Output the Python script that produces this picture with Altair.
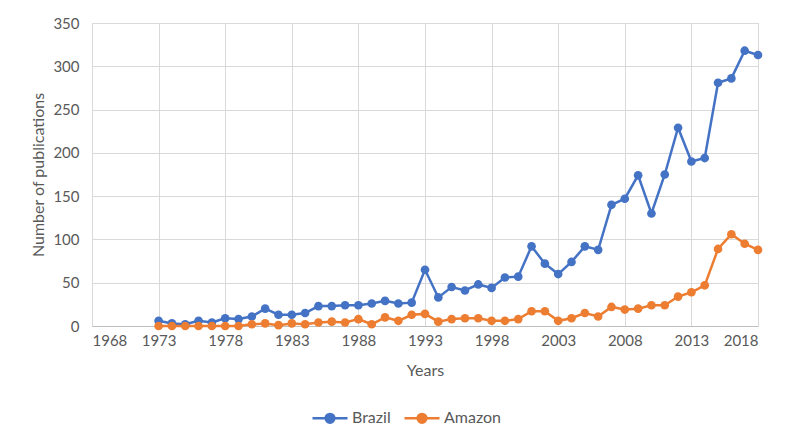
import altair as alt
import pandas as pd

years = list(range(1973, 2019))
brazil = [6, 3, 2, 6, 4, 9, 8, 11, 20, 13, 13, 15, 23, 23, 24, 24, 26, 29, 26, 27,
          65, 33, 45, 41, 48, 44, 56, 57, 92, 72, 60, 74, 92, 88, 140, 147, 174, 130,
          175, 229, 190, 194, 281, 286, 318, 313]
amazon = [0, 0, 0, 0, 0, 0, 0, 2, 3, 1, 3, 2, 4, 5, 4, 8, 2, 10, 6, 13,
          14, 5, 8, 9, 9, 6, 6, 8, 17, 17, 6, 9, 15, 11, 22, 19, 20, 24,
          24, 34, 39, 47, 89, 106, 95, 88]
series = ["Brazil", "Amazon"]
colors = ["#4472C4", "#ED7D31"]
x_ticks = list(range(1968, 2019, 5))
y_ticks = list(range(0, 351, 50))

df = pd.concat([
    pd.DataFrame({"Year": years, "Value": brazil, "Series": "Brazil"}),
    pd.DataFrame({"Year": years, "Value": amazon, "Series": "Amazon"}),
])

font = "Lato"
legend_path = ("M-1,0H1 M-0.25,0 a0.25,0.25 0 1,0 0.5,0 a0.25,0.25 0 1,0 -0.5,0 Z")

chart = alt.Chart(df).mark_line(
    strokeWidth=2.5,
    point=alt.OverlayMarkDef(filled=True, size=75, opacity=1),
).encode(
    x=alt.X("Year:Q",
            scale=alt.Scale(domain=[1968, 2018], nice=False, zero=False),
            axis=alt.Axis(title="Years", values=x_ticks, format="d",
                          labelFontSize=15, titleFontSize=16,
                          labelPadding=7, titlePadding=14,
                          domainColor="#bfbfbf", ticks=False,
                          gridColor="#d9d9d9")),
    y=alt.Y("Value:Q",
            scale=alt.Scale(domain=[0, 350], nice=False),
            axis=alt.Axis(title="Number of publications", values=y_ticks,
                          labelFontSize=15, titleFontSize=16,
                          labelPadding=13, titlePadding=6,
                          domain=False, ticks=False, gridColor="#d9d9d9")),
    color=alt.Color("Series:N",
                    scale=alt.Scale(domain=series, range=colors),
                    sort=series,
                    legend=alt.Legend(title=None, orient="none", direction="horizontal",
                                      legendX=219, legendY=376,
                                      symbolType=legend_path, symbolSize=1225,
                                      symbolStrokeWidth=2.5,
                                      labelFontSize=16, columnPadding=8,
                                      labelOffset=3)),
).properties(
    width=666, height=303,
    padding={"left": 84, "top": 15, "right": 20, "bottom": 110},
    autosize=alt.AutoSizeParams(type="none"),
).configure_view(
    stroke=None
).configure(
    font=font
).configure_axis(
    labelColor="#595959", titleColor="#595959", labelFont=font, titleFont=font,
    titleFontWeight="normal"
).configure_legend(
    labelColor="#595959", labelFont=font
)

chart.save("out.html", embed_options={"renderer": "svg", "actions": False})
